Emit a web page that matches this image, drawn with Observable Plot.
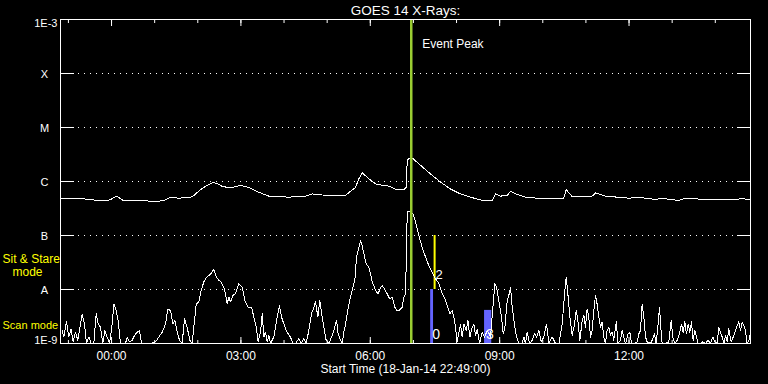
<!DOCTYPE html>
<html><head><meta charset="utf-8">
<script src="https://cdn.jsdelivr.net/npm/d3@7"></script>
<script src="https://cdn.jsdelivr.net/npm/@observablehq/plot@0.6"></script>
<style>html,body{margin:0;padding:0;background:#000;} #chart{width:768px;height:384px;overflow:hidden}</style>
</head><body><div id="chart"></div>
<script>
// ---- data ----
const titleText = "GOES 14 X-Rays:";
const startTime = "18-Jan-14 22:49:00";
const startClock = "22:49";
const spanMinutes = 960;

// Long channel (1–8 Å): minutes after start, log10 flux
const longMinutes = [0,27.8,41.7,60.2,69.6,74.2,79.7,84.5,89.0,106.7,134.5,146.1,153.0,164.6,180.9,185.5,194.8,204.1,212.5,218.0,225.0,236.5,250.4,262.0,275.9,289.8,317.6,340.9,350.2,364.1,396.5,403.5,410.4,415.0,419.8,426.7,433.7,440.6,452.2,461.5,466.1,477.6,481.0,482.4,484.6,490.7,500.9,514.8,528.7,542.6,556.5,570.4,586.7,600.6,605.2,612.2,621.5,626.1,633.0,646.9,663.2,681.7,700.2,703.5,711.9,730.4,739.8,744.3,753.7,760.6,776.8,790.7,804.6,818.5,827.8,839.4,846.4,860.3,869.6,883.5,897.4,915.9,934.6,950.7,960];
const longLog = [-6.32,-6.31,-6.34,-6.35,-6.34,-6.29,-6.28,-6.33,-6.36,-6.35,-6.37,-6.34,-6.29,-6.31,-6.29,-6.26,-6.15,-6.07,-6.02,-6.04,-6.09,-6.12,-6.07,-6.11,-6.20,-6.27,-6.29,-6.27,-6.23,-6.25,-6.26,-6.18,-6.11,-5.95,-5.84,-5.92,-6.00,-6.06,-6.07,-6.11,-6.14,-6.15,-6.11,-5.61,-5.58,-5.58,-5.70,-5.86,-6.01,-6.14,-6.23,-6.29,-6.35,-6.35,-6.23,-6.27,-6.26,-6.18,-6.23,-6.29,-6.31,-6.32,-6.31,-6.15,-6.28,-6.28,-6.27,-6.21,-6.25,-6.28,-6.29,-6.31,-6.29,-6.32,-6.33,-6.31,-6.33,-6.35,-6.31,-6.32,-6.34,-6.33,-6.33,-6.32,-6.34];

// Short channel (0.5–4 Å): minutes after start, log10 flux (floor 1E-9)
const shortMinutes = [2.3,4.6,8.3,11.6,14.8,17.6,20.9,24.1,27.8,30.1,33.4,36.2,39.4,42.7,46.4,49.6,52.4,55.7,58.9,61.7,64.9,68.2,71.9,74.2,77.5,80.2,83.5,90.4,92.8,96.0,99.7,103.0,106.7,109.9,112.7,125.2,132.2,136.8,141.5,146.1,149.3,153.1,156.3,159.1,162.3,165.6,169.3,172.5,176.2,180.0,183.2,185.5,188.8,192.5,195.7,199.4,202.7,206.4,209.6,213.3,216.6,220.3,223.5,227.3,229.6,231.9,234.2,236.5,239.8,
243.5,248.1,252.8,256.5,261.1,265.8,269.0,272.3,275.0,278.3,280.6,282.9,285.2,287.6,289.9,292.2,296.8,301.5,304.7,307.5,310.8,313.1,316.8,320.0,323.3,327.0,331.6,334.9,338.6,341.8,345.5,349.2,352.5,354.8,358.1,360.8,364.1,366.4,369.6,373.4,377.1,380.3,384.0,386.3,389.6,391.9,394.2,396.6,400.3,403.5,405.8,409.5,411.9,414.2,417.4,419.7,422.1,425.3,429.0,431.3,433.7,436.0,438.3,442.0,445.2,447.6,450.8,454.5,457.8,461.5,465.2,468.4,471.7,475.4,477.7,480.0,481.4,482.4,484.7,
490.7,494.0,498.6,503.2,507.9,512.5,517.1,521.8,526.4,531.1,535.7,538.9,541.7,545.0,547.3,549.6,551.9,554.3,556.6,558.9,561.2,564.5,566.8,569.6,572.8,575.1,577.4,579.8,583.0,586.7,590.0,593.7,598.3,601.6,604.3,606.7,609.0,611.3,613.6,615.9,618.3,621.5,624.3,626.1,628.5,630.8,633.1,635.4,637.7,642.4,644.7,647.0,649.3,652.6,656.3,659.5,662.3,665.6,668.8,672.5,676.2,679.5,684.1,688.8,693.4,698.0,701.3,703.6,705.9,708.7,711.9,715.2,717.5,719.8,722.6,725.9,728.2,
730.4,732.7,735.0,737.4,739.7,742.0,744.3,746.6,749.0,751.3,753.6,755.9,758.2,760.5,762.9,765.2,767.5,769.8,772.1,773.5,775.4,779.1,781.4,783.7,786.1,789.8,792.1,794.4,797.7,802.3,804.6,806.9,809.2,811.6,813.9,816.2,820.8,823.2,826.4,828.7,831.5,833.4,835.2,837.1,841.7,846.4,849.6,851.9,854.7,857.9,861.2,864.0,866.3,868.6,870.9,873.3,875.6,877.9,880.2,882.5,884.8,887.2,890.4,893.7,897.4,901.1,904.3,907.6,910.4,913.6,915.9,918.2,920.6,922.9,925.2,927.5,929.8,933.1,935.9,939.1,941.4,943.7,946.1,948.4,950.7,953.0,955.3,957.7,960];
const shortLog = [-8.76,-8.88,-8.60,-8.88,-8.73,-8.97,-8.79,-8.94,-8.64,-8.46,-8.64,-9,-8.88,-9,-9,-8.45,-8.64,-8.70,-9,-8.76,-8.88,-9,-8.64,-8.27,-8.39,-8.57,-9,-9,-8.88,-8.97,-8.94,-8.85,-8.79,-8.76,-9,-9,-8.97,-8.88,-8.79,-8.64,-8.36,-8.39,-8.64,-8.57,-8.79,-8.94,-9,-8.54,-8.70,-8.94,-9,-8.70,-8.27,-8.23,-8.02,-7.86,-7.78,-7.74,-7.70,-7.63,-7.76,-7.83,-7.86,-7.96,-8.08,-8.27,-8.14,-8.23,-8.11,
-8.08,-7.89,-7.96,-8.20,-8.33,-8.33,-8.51,-8.70,-8.97,-8.79,-8.45,-8.88,-8.79,-8.97,-8.85,-9,-8.88,-8.51,-8.30,-8.51,-8.64,-8.73,-8.82,-8.88,-9,-9,-8.91,-9,-8.91,-9,-8.76,-8.45,-8.33,-8.23,-8.51,-8.20,-8.51,-8.70,-8.94,-9,-8.88,-8.76,-8.57,-8.82,-8.94,-9,-8.79,-8.64,-8.33,-8.14,-8.02,-7.83,-7.40,-7.28,-7.10,-7.18,-7.34,-7.52,-7.59,-7.71,-7.86,-7.93,-8.02,-8.08,-7.96,-7.93,-7.99,-8.08,-8.17,-8.14,-8.33,-8.39,-8.38,-8.33,-8.14,-8.08,-7.28,-6.57,-6.55,
-6.60,-6.75,-7.00,-7.22,-7.40,-7.56,-7.68,-7.80,-7.89,-8.08,-8.20,-8.33,-8.45,-8.39,-8.51,-8.70,-8.97,-8.79,-8.64,-8.88,-8.64,-8.76,-8.57,-8.88,-8.70,-8.64,-8.85,-8.73,-9,-8.79,-8.88,-8.76,-8.88,-8.33,-7.89,-7.96,-8.14,-8.33,-8.51,-8.82,-8.70,-8.20,-8.08,-7.96,-8.33,-8.57,-8.79,-8.91,-9,-9,-8.88,-9,-8.79,-9,-8.94,-8.82,-8.88,-8.76,-8.97,-8.88,-8.64,-9,-8.88,-9,-9,-8.64,-8.08,-7.77,-8.08,-8.51,-8.85,-8.64,-8.39,-8.57,-8.94,-8.57,-8.48,
-8.70,-8.36,-8.51,-8.88,-8.76,-8.39,-8.11,-8.27,-8.51,-8.70,-8.60,-8.88,-9,-8.76,-8.70,-8.85,-8.79,-8.94,-8.70,-8.60,-9,-8.94,-8.76,-8.88,-9,-8.82,-8.79,-9,-9,-8.97,-8.82,-8.76,-8.27,-8.51,-8.88,-8.97,-9,-8.94,-8.82,-9,-8.64,-8.33,-8.70,-9,-9,-8.97,-8.57,-8.88,-9,-8.94,-8.82,-8.64,-8.79,-8.60,-8.82,-8.64,-8.79,-8.60,-8.94,-8.76,-8.88,-9,-9,-8.97,-9,-8.94,-9,-8.88,-8.97,-9,-8.70,-8.79,-8.88,-9,-8.85,-8.97,-8.73,-8.97,-8.88,-8.76,-8.67,-8.60,-8.76,-8.60,-8.67,-8.76,-9,-8.94,-8.81];

// Flux levels and their labels
const levelFlux = [1e-3, 1e-4, 1e-5, 1e-6, 1e-7, 1e-8, 1e-9];
const levelLabels = ["1E-3", "X", "M", "C", "B", "A", "1E-9"];
const gridFlux = [1e-4, 1e-5, 1e-6, 1e-7, 1e-8];

// Time axis
const majorTickLabels = ["00:00", "03:00", "06:00", "09:00", "12:00"];
const hourTickLabels = ["23:00","00:00","01:00","02:00","03:00","04:00","05:00","06:00","07:00","08:00","09:00","10:00","11:00","12:00","13:00","14:00"];

// Event / observation markers
const eventPeakMinute = 488;
const eventLabel = "Event Peak";
const sitStareMinute = [520.5];
const sitStareLabel = ["2"];
const sitStareRange = [1e-8, 1e-7];
const scanLabels = ["0", "3"];
const scanStart = [515, 590];
const scanEnd = [519, 600];
const scanTop = [1e-8, 4.1e-9];
const modeLabels = ["Sit & Stare", "\u00a0\u00a0\u00a0mode", "Scan mode"];

// ---- build ----
const toMin = s => { const [h, m] = s.split(":").map(Number); const [h0, m0] = startClock.split(":").map(Number); return ((h * 60 + m) - (h0 * 60 + m0) + 1440) % 1440; };
const longData = longMinutes.map((t, i) => ({t, f: 10 ** longLog[i]}));
const shortData = shortMinutes.map((t, i) => ({t, f: 10 ** shortLog[i]}));
const font = "'Liberation Sans', Arial, sans-serif";

const chart = Plot.plot({
  width: 768, height: 384,
  marginLeft: 60, marginRight: 18, marginTop: 19, marginBottom: 41,
  style: {background: "#000", color: "#fff", fontFamily: font, fontSize: "12px"},
  x: {domain: [0, spanMinutes], axis: null},
  y: {type: "log", domain: [1e-9, 1e-3], axis: null},
  marks: [
    Plot.ruleY(gridFlux, {stroke: "#fff", strokeWidth: 1, strokeDasharray: "1,5"}),
    Plot.axisY(levelFlux, {anchor: "left", tickSize: -14, tickFormat: () => "", label: null, stroke: "#fff"}),
    Plot.axisY(levelFlux, {anchor: "right", tickSize: -14, tickFormat: () => "", label: null, stroke: "#fff"}),
    Plot.axisX(hourTickLabels.map(toMin), {anchor: "top", tickSize: -3, tickFormat: () => "", label: null, stroke: "#fff"}),
    Plot.axisX(majorTickLabels.map(toMin), {anchor: "top", tickSize: -6, tickFormat: () => "", label: null, stroke: "#fff"}),
    Plot.axisX(hourTickLabels.map(toMin), {anchor: "bottom", tickSize: -3, tickFormat: () => "", label: null, stroke: "#fff"}),
    Plot.axisX(majorTickLabels.map(toMin), {anchor: "bottom", tickSize: -6, tickFormat: () => "", label: null, stroke: "#fff"}),
    Plot.rect(scanLabels, {x1: (d, i) => scanStart[i], x2: (d, i) => scanEnd[i], y1: () => levelFlux[6], y2: (d, i) => scanTop[i], fill: "#6464ff"}),
    Plot.ruleX(sitStareMinute, {x: d => d, y1: () => sitStareRange[0], y2: () => sitStareRange[1], stroke: "#ffff00", strokeWidth: 2}),
    Plot.line(longData, {x: "t", y: "f", stroke: "#fff", strokeWidth: 1, shapeRendering: "crispEdges"}),
    Plot.line(shortData, {x: "t", y: "f", stroke: "#fff", strokeWidth: 1, shapeRendering: "crispEdges"}),
    Plot.ruleX([eventPeakMinute], {x: d => d, stroke: "#9acd32", strokeWidth: 2.5}),
    Plot.text([eventLabel], {x: () => eventPeakMinute, text: d => d, frameAnchor: "top", lineAnchor: "bottom", dy: 28, dx: 11, textAnchor: "start", fill: "#fff", fontSize: 12}),
    Plot.text(sitStareLabel, {x: (d, i) => sitStareMinute[i], y: () => sitStareRange[0], text: d => d, lineAnchor: "bottom", dy: -11, dx: 1, textAnchor: "start", fill: "#fff", fontSize: 13}),
    Plot.text(scanLabels, {x: (d, i) => scanStart[i], text: d => d, frameAnchor: "bottom", lineAnchor: "bottom", dy: -5, dx: 1.5, textAnchor: "start", fill: "#fff", fontSize: 14}),
    // y labels
    Plot.text(levelFlux.slice(1, -1), {y: d => d, text: (d, i) => levelLabels[i + 1], frameAnchor: "left", dx: -16, dy: 1, textAnchor: "middle", fill: "#fff", fontSize: 11}),
    Plot.text([levelFlux[0]], {y: d => d, text: () => levelLabels[0], frameAnchor: "left", dx: -3, textAnchor: "end", lineAnchor: "top", fill: "#fff", fontSize: 11}),
    Plot.text([levelFlux[6]], {y: d => d, text: () => levelLabels[6], frameAnchor: "left", dx: -3, textAnchor: "end", lineAnchor: "bottom", fill: "#fff", fontSize: 11}),
    // mode labels
    Plot.text([modeLabels[0]], {y: () => sitStareRange[1], text: d => d, frameAnchor: "left", dx: -58, dy: 27, textAnchor: "start", lineAnchor: "bottom", fill: "#ffff00", fontSize: 12}),
    Plot.text([modeLabels[1]], {y: () => sitStareRange[1], text: d => d, frameAnchor: "left", dx: -58, dy: 40, textAnchor: "start", lineAnchor: "bottom", fill: "#ffff00", fontSize: 12}),
    Plot.text([modeLabels[2]], {y: () => sitStareRange[0], text: d => d, frameAnchor: "left", dx: -58, dy: 39, textAnchor: "start", lineAnchor: "bottom", fill: "#ffff00", fontSize: 11}),
    // x labels
    Plot.text(majorTickLabels, {x: d => toMin(d), text: d => d, frameAnchor: "bottom", lineAnchor: "bottom", dy: 16, fill: "#fff", fontSize: 12}),
    Plot.text([`Start Time (${startTime})`], {text: d => d, frameAnchor: "bottom", lineAnchor: "bottom", dy: 29, fill: "#fff", fontSize: 12}),
    Plot.text([titleText], {text: d => d, frameAnchor: "top", lineAnchor: "bottom", dy: -5, fill: "#fff", fontSize: 13.5}),
    Plot.frame({stroke: "#fff", strokeWidth: 1})
  ]
});
document.getElementById("chart").appendChild(chart);
</script>
</body></html>
